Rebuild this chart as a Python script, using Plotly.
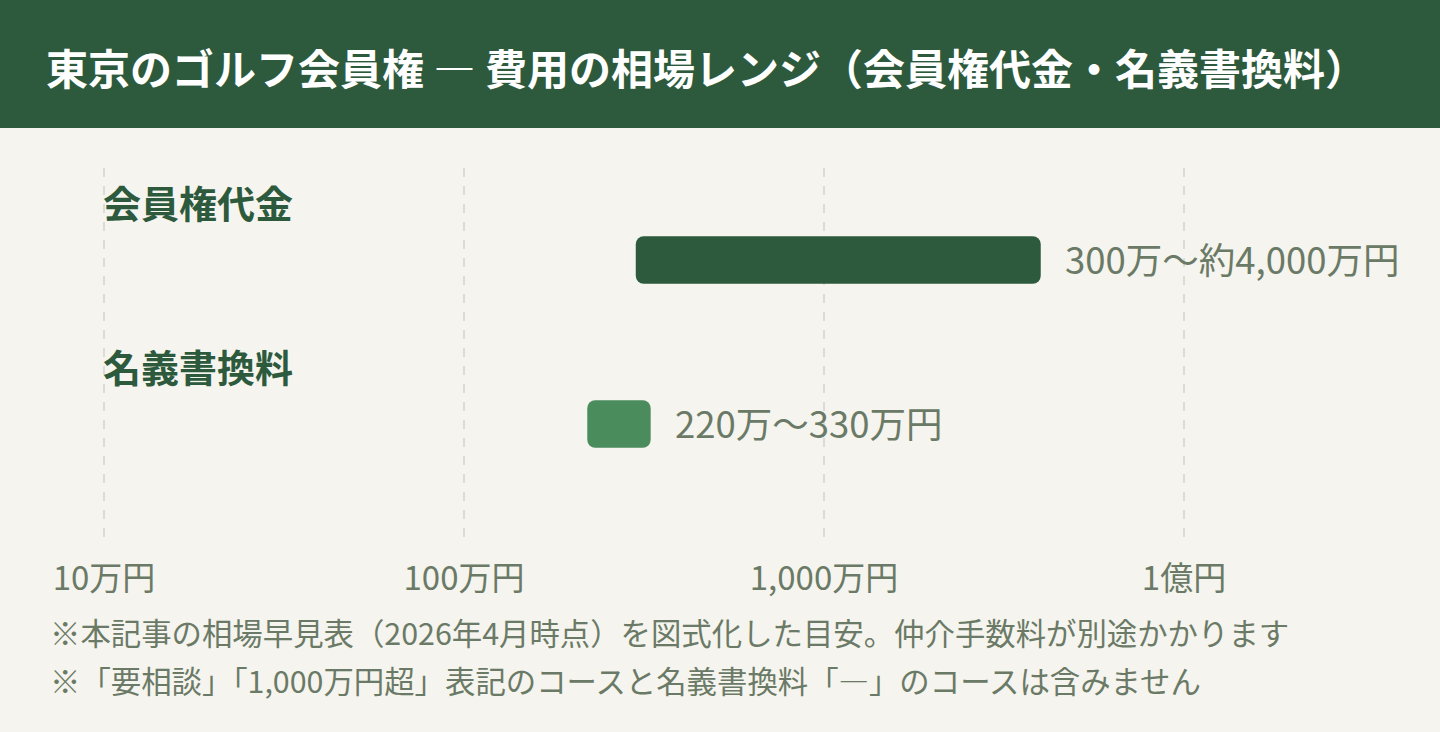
import math

import plotly.graph_objects as go

# data (yen)
categories = ["会員権代金", "名義書換料"]
range_low = [3_000_000, 2_200_000]
range_high = [40_000_000, 3_300_000]
range_labels = ["300万〜約4,000万円", "220万〜330万円"]
bar_colors = ["#2d5a3d", "#4a8c5c"]

tick_values = [100_000, 1_000_000, 10_000_000, 100_000_000]
tick_labels = ["10万円", "100万円", "1,000万円", "1億円"]

title_text = "東京のゴルフ会員権 ― 費用の相場レンジ（会員権代金・名義書換料）"
notes = [
    "※本記事の相場早見表（2026年4月時点）を図式化した目安。仲介手数料が別途かかります",
    "※「要相談」「1,000万円超」表記のコースと名義書換料「―」のコースは含みません",
]

FONT = "Noto Sans CJK JP"
BG = "#f5f4ee"
DARK = "#2d5a3d"
MUTED = "#6b7a66"

W, H = 1440, 732
M_L, M_R, M_T, M_B = 102, 48, 168, 192
plot_w = W - M_L - M_R
plot_h = H - M_T - M_B
px_per_decade = 360
# start a hair left of 10万 so its gridline is still drawn
x_lo = math.log10(tick_values[0]) - 2 / px_per_decade
x_hi = x_lo + plot_w / px_per_decade

fig = go.Figure(
    go.Bar(
        y=categories,
        x=[hi - lo for lo, hi in zip(range_low, range_high)],
        base=range_low,
        orientation="h",
        marker=dict(color=bar_colors, line=dict(width=0)),
        width=0.29,
        hoverinfo="skip",
    )
)

annotations = []
for cat, hi, label in zip(categories, range_high, range_labels):
    annotations.append(dict(
        x=math.log10(tick_values[0]), y=cat, xref="x", yref="y", text=f"<b>{cat}</b>",
        showarrow=False, xanchor="left", yanchor="middle", yshift=59, xshift=-3,
        font=dict(family=FONT, size=38, color=DARK),
    ))
    annotations.append(dict(
        x=math.log10(hi), y=cat, xref="x", yref="y", text=label,
        showarrow=False, xanchor="left", yanchor="middle", xshift=22, yshift=2,
        font=dict(family=FONT, size=36.5, color=MUTED),
    ))

for i, note in enumerate(notes):
    annotations.append(dict(
        x=(48 - M_L) / plot_w, y=(H - M_B - 632 - 48 * i) / plot_h,
        xref="paper", yref="paper", text=note, showarrow=False,
        xanchor="left", yanchor="middle",
        font=dict(family=FONT, size=30.4, color=MUTED),
    ))

# header band
fig.add_shape(
    type="rect", xref="paper", yref="paper", layer="below",
    x0=-M_L / plot_w, x1=1 + M_R / plot_w,
    y0=(H - M_B - 128) / plot_h, y1=(H - M_B) / plot_h,
    fillcolor=DARK, line=dict(width=0),
)

fig.update_layout(
    width=W,
    height=H,
    margin=dict(l=M_L, r=M_R, t=M_T, b=M_B, pad=0),
    paper_bgcolor=BG,
    plot_bgcolor=BG,
    showlegend=False,
    barcornerradius=8,
    title=dict(
        text=title_text, x=46 / W, xanchor="left", xref="container",
        y=1 - 70 / H, yanchor="middle", yref="container",
        font=dict(family=FONT, size=42, color="white", weight=700),
    ),
    xaxis=dict(
        type="log",
        range=[x_lo, x_hi],
        tickvals=tick_values,
        ticktext=tick_labels,
        showgrid=True,
        gridcolor="#dcdcd4",
        griddash="dash",
        gridwidth=1.5,
        zeroline=False,
        showline=False,
        ticks="",
        ticklabelstandoff=16,
        tickfont=dict(family=FONT, size=33, color=MUTED),
    ),
    yaxis=dict(
        type="category",
        categoryorder="array",
        categoryarray=categories,
        range=[1 + (H - M_B - 424) / 164, -(260 - M_T) / 164],
        showticklabels=False,
        showgrid=False,
        zeroline=False,
        showline=False,
    ),
    annotations=annotations,
)

fig.write_html(
    "out.html",
    config={"displayModeBar": False, "staticPlot": True},
    post_script="document.body.style.margin='0';document.body.style.background='#f5f4ee';",
)
